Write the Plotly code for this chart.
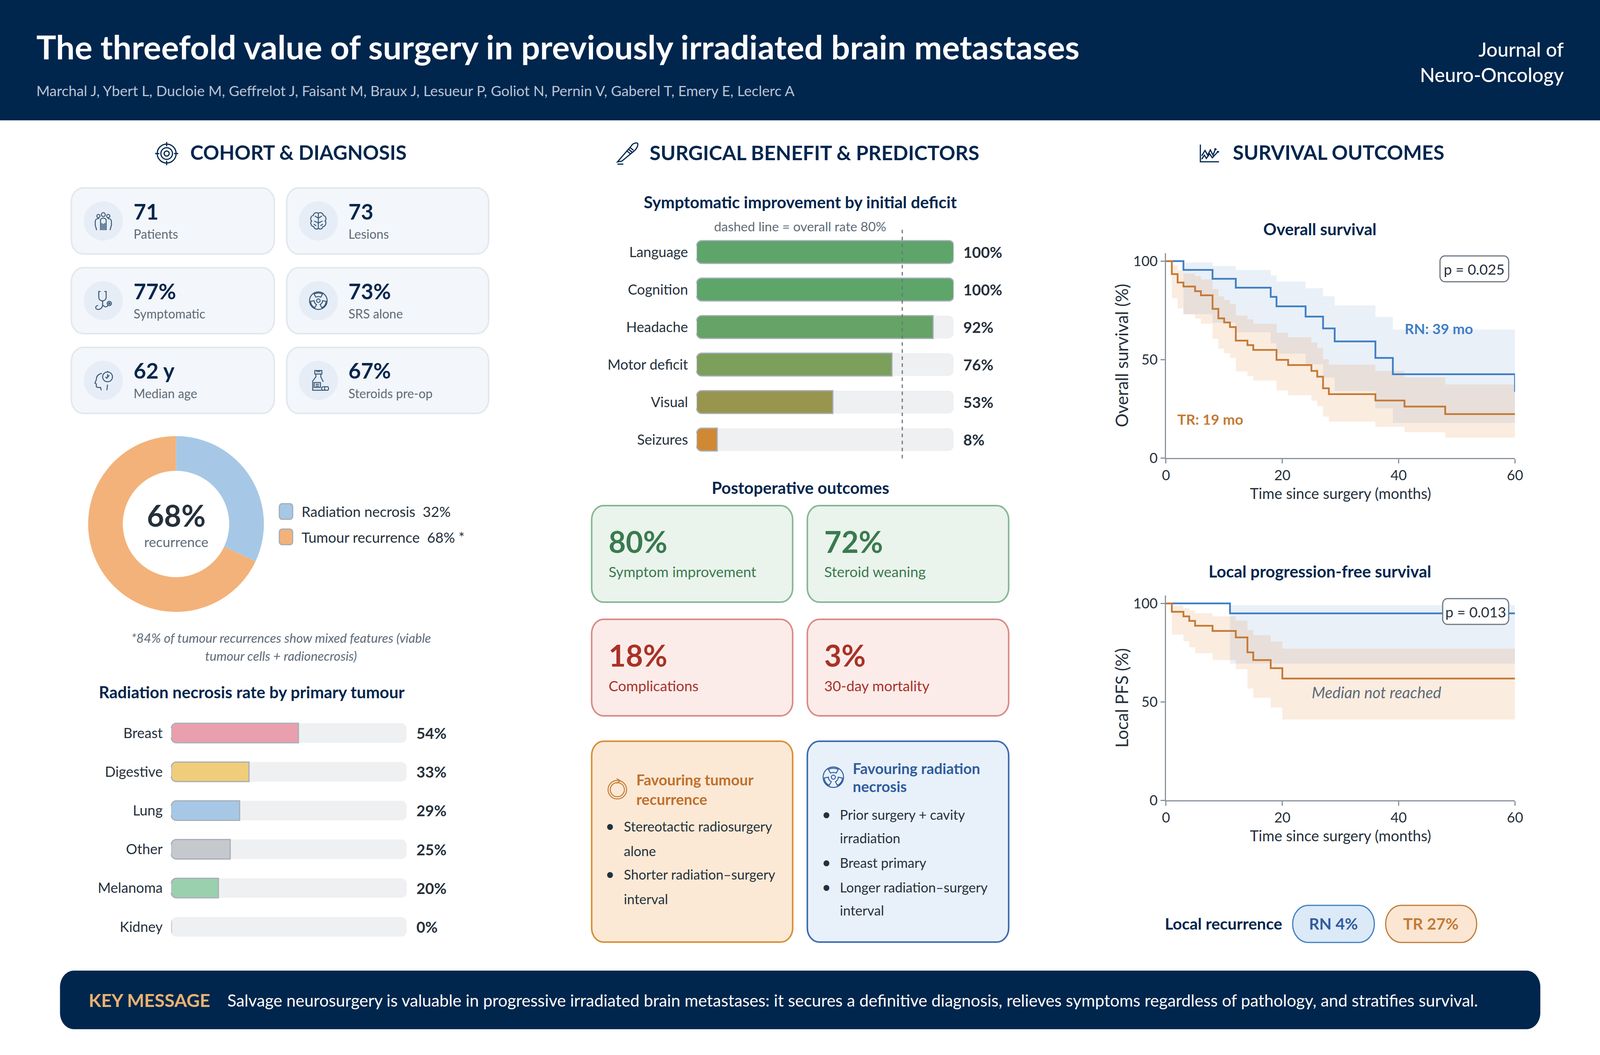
import re
import plotly.graph_objects as go

# ---------- data ----------
TITLE = "The threefold value of surgery in previously irradiated brain metastases"
AUTHORS = "Marchal J, Ybert L, Ducloie M, Geffrelot J, Faisant M, Braux J, Lesueur P, Goliot N, Pernin V, Gaberel T, Emery E, Leclerc A"

DONUT_LABELS = ["Radiation necrosis", "Tumour recurrence"]
DONUT_VALUES = [32, 68]

PRIMARY_TUMOURS = ["Breast", "Digestive", "Lung", "Other", "Melanoma", "Kidney"]
PRIMARY_RATES = [54, 33, 29, 25, 20, 0]
PRIMARY_COLORS = ["#e99fae", "#f0cd7a", "#a6c8e6", "#c5c9ce", "#9bd0ae", "#c5c9ce"]

DEFICITS = ["Language", "Cognition", "Headache", "Motor deficit", "Visual", "Seizures"]
DEFICIT_RATES = [100, 100, 92, 76, 53, 8]
DEFICIT_COLORS = ["#5ea56a", "#5ea56a", "#66a366", "#7c9f5c", "#98954f", "#d08834"]
OVERALL_RATE = 80

OS_RN_X = [0, 3, 8, 12, 18, 19, 24, 27, 29, 36, 39, 60]
OS_RN_Y = [100, 95.5, 91, 86.5, 81.8, 77, 71.8, 65.8, 59.2, 50.8, 42.5, 33.6]
OS_RN_BX = [3, 8, 12, 18, 19, 24, 27, 29, 36, 39, 60]
OS_RN_UP = [99.3, 97.5, 95.4, 92.7, 89.6, 86.2, 82.1, 77.5, 71.6, 65.2, 65.2]
OS_RN_LO = [73, 68.7, 63.8, 58.3, 53, 47.6, 40.9, 34, 25.2, 17.8, 17.8]

OS_TR_X = [0, 1, 2, 3, 5, 6, 8, 9, 10, 11, 12, 14, 15, 19, 21, 25, 26, 27, 28, 36, 41, 48, 60]
OS_TR_Y = [100, 93.4, 89.1, 87.1, 84.7, 82.6, 75.7, 70.9, 68.8, 66.5, 59.6, 57.3, 54.9, 49.8, 47.2, 44.2, 41.3, 35.4, 32.4, 29.2, 26.1, 22.3, 22.3]
OS_TR_BX = OS_TR_X[1:]
OS_TR_UP = [97.8, 95.3, 93.7, 92.4, 90.7, 85.8, 82.1, 80.2, 78.2, 72.3, 70.4, 68.2, 63.6, 61.3, 58.6, 55.8, 50.2, 47.4, 44.2, 40.9, 37.3, 37.3]
OS_TR_LO = [81.2, 75.9, 73, 70.7, 68.2, 60.5, 55.5, 53.2, 50.8, 43.9, 41.7, 39.3, 34.3, 31.8, 29.1, 26.3, 21, 18.4, 15.8, 13.1, 10.3, 10.3]

PFS_RN_X = [0, 11, 60]
PFS_RN_Y = [100, 94.9, 94.9]
PFS_RN_BX = [11, 60]
PFS_RN_UP = [99.1, 99.1]
PFS_RN_LO = [69.4, 69.4]

PFS_TR_X = [0, 1, 3, 4, 5, 8, 12, 14, 15, 18, 20, 60]
PFS_TR_Y = [100, 95.7, 93.4, 91.1, 88.6, 86, 82.7, 75.1, 71.2, 67.1, 61.8, 61.8]
PFS_TR_BX = PFS_TR_X[1:]
PFS_TR_UP = [99, 97.6, 96.4, 95, 93.4, 91.3, 86.4, 83.8, 80.7, 77, 77]
PFS_TR_LO = [84.1, 80.8, 77.7, 74.7, 71.2, 66.6, 56.7, 52, 47.1, 41, 41]

STAT_VALUES = ["71", "73", "77%", "73%", "62 y", "67%"]
STAT_LABELS = ["Patients", "Lesions", "Symptomatic", "SRS alone", "Median age", "Steroids pre-op"]

# ---------- style ----------
# Positions below are in the reference's 4800x2700 space and become page
# fractions, so the figure fills whatever window it is opened in.
W, H = 4800, 2700
ISO_X = 4800 / 4096  # keeps round icons round in a 4096-wide window
FONT = "Lato"
NAVY = "#00264d"
INK = "#25303b"
GREY = "#5f6b78"
BLUE = "#3f7fc4"
ORANGE = "#c47a35"
AXIS = "#8a929c"
BAR_EDGE = "#a8aeb8"

shapes, annots = [], []


def px(x):
    return x / W


def py(y):
    return 1 - y / H


def text(x, y, s, size, color=INK, weight=400, anchor="left", italic=False, angle=0):
    f = dict(family=FONT, size=size, color=color, weight=weight)
    if italic:
        f["style"] = "italic"
    annots.append(dict(xref="paper", yref="paper", x=px(x), y=py(y), text=s, showarrow=False, textangle=angle,
                       xanchor=anchor, yanchor="middle", font=f, borderpad=0))


def tf(path, cx=0, cy=0, sx=1, sy=1):
    tokens = re.findall(r"[MLCQZ]|-?\d+\.?\d*", path)
    out, is_x = [], True
    for t in tokens:
        if t in "MLCQZ":
            out.append(t)
            is_x = True
        elif is_x:
            out.append(f"{px(cx + float(t) * sx):.6f}")
            is_x = False
        else:
            out.append(f"{py(cy + float(t) * sy):.6f}")
            is_x = True
    res, i = "", 0
    while i < len(out):
        if out[i] in "MLCQZ":
            res += out[i] + " "
            i += 1
        else:
            res += out[i] + "," + out[i + 1] + " "
            i += 2
    return res


def rrect(x0, y0, x1, y1, r, fill, line=None, lw=0, layer="below"):
    k = r * 0.4477
    p = (f"M{x0 + r} {y0} L{x1 - r} {y0} C{x1 - k} {y0} {x1} {y0 + k} {x1} {y0 + r} L{x1} {y1 - r} "
         f"C{x1} {y1 - k} {x1 - k} {y1} {x1 - r} {y1} L{x0 + r} {y1} C{x0 + k} {y1} {x0} {y1 - k} {x0} {y1 - r} "
         f"L{x0} {y0 + r} C{x0} {y0 + k} {x0 + k} {y0} {x0 + r} {y0} Z")
    shapes.append(dict(type="path", xref="paper", yref="paper", path=tf(p), fillcolor=fill,
                       line=dict(color=line or "rgba(0,0,0,0)", width=lw), layer=layer))


def circ(x, y, r):
    k = r * 0.5523
    return (f"M{x + r} {y} C{x + r} {y + k} {x + k} {y + r} {x} {y + r} C{x - k} {y + r} {x - r} {y + k} {x - r} {y} "
            f"C{x - r} {y - k} {x - k} {y - r} {x} {y - r} C{x + k} {y - r} {x + r} {y - k} {x + r} {y} Z ")


def icon(path, cx, cy, s=0.93, color="#3a5878", lw=2.5):
    shapes.append(dict(type="path", xref="paper", yref="paper", path=tf(path, cx, cy, s * ISO_X, s),
                       fillcolor="rgba(0,0,0,0)", line=dict(color=color, width=lw), layer="above"))


def disc(cx, cy, r, fill):
    rx = r * ISO_X
    shapes.append(dict(type="circle", xref="paper", yref="paper", x0=px(cx - rx), x1=px(cx + rx),
                       y0=py(cy + r), y1=py(cy - r), fillcolor=fill, line=dict(width=0), layer="below"))


def round_left_ends(x0, top, step, h, vals, r=13):
    """Plotly rounds only the far end of a bar: mask the near end's corners and redraw their edge."""
    rx, ry = r * ISO_X, r
    kx, ky = rx * 0.4477, ry * 0.4477
    for i, v in enumerate(vals):
        yc = top + step * (i + 0.5)
        for sgn in (-1, 1):
            ye = yc + sgn * h / 2
            mask = (f"M{x0 - 4} {ye + sgn * 4} L{x0 + rx} {ye + sgn * 4} L{x0 + rx} {ye} "
                    f"C{x0 + kx} {ye} {x0} {ye - sgn * ky} {x0} {ye - sgn * ry} L{x0 - 4} {ye - sgn * ry} Z")
            shapes.append(dict(type="path", xref="paper", yref="paper", path=tf(mask), fillcolor="#ffffff",
                               line=dict(width=0), layer="above"))
            if v > 0:
                arc = f"M{x0 + rx} {ye} C{x0 + kx} {ye} {x0} {ye - sgn * ky} {x0} {ye - sgn * ry}"
                shapes.append(dict(type="path", xref="paper", yref="paper", path=tf(arc),
                                   fillcolor="rgba(0,0,0,0)", line=dict(color=BAR_EDGE, width=3), layer="above"))


ICON_TARGET = circ(0, 0, 26) + circ(0, 0, 16) + circ(0, 0, 7) + "M0 -32 L0 -20 M0 20 L0 32 M-32 0 L-20 0 M20 0 L32 0"
ICON_SCALPEL = ("M-28 24 L10 -20 C14 -27 24 -30 27 -27 C30 -24 26 -14 20 -8 L-16 22 L-28 24 Z "
                "M-2 -6 L8 2 M2 -11 L12 -3 M6 -16 L16 -8 M-28 30 L-12 30")
ICON_CHART = ("M-28 -26 L-28 26 L28 26 M-24 8 L-14 -8 L-6 6 L2 -10 L10 6 L18 -14 M18 -14 L14 -12 M18 -14 L20 -10 "
              "M-24 18 L-16 6 L-10 16 L0 2 L8 14 L26 -6 M26 -6 L22 -4 M26 -6 L27 -2")
ICON_PEOPLE = (circ(-14, -14, 4.5) + circ(0, -18, 5.5) + circ(14, -14, 4.5) +
               "M-8 26 L-8 -2 C-8 -10 8 -10 8 -2 L8 26 M-4 26 L-4 6 M4 26 L4 6 M0 26 L0 8 "
               "M-12 -7 C-20 -7 -23 -3 -23 1 L-23 12 L-19 26 M12 -7 C20 -7 23 -3 23 1 L23 12 L19 26")
ICON_BRAIN = ("M0 -22 C-6 -26 -14 -22 -14 -16 C-22 -14 -24 -4 -19 0 C-25 6 -19 16 -13 16 C-11 24 -3 25 0 20 "
              "C3 25 11 24 13 16 C19 16 25 6 19 0 C24 -4 22 -14 14 -16 C14 -22 6 -26 0 -22 Z "
              "M0 -22 L0 20 M0 -8 L-10 -14 M0 -8 L10 -14 M0 6 L-12 0 M0 6 L12 0 M-6 14 L-13 9 M6 14 L13 9")
ICON_STETH = ("M-8 -26 L-13 -26 L-13 -10 C-13 4 8 4 8 -10 L8 -26 L3 -26 M-2 -1 L-2 10 C-2 22 -10 25 -15 25 "
              "C-24 25 -24 14 -15 14 M-2 12 C4 20 12 18 12 14 " + circ(17, 8, 6) + circ(17, 8, 2))
ICON_RAD = (circ(0, 0, 25) + circ(0, 0, 5) + "M-7 -10 L-12 -19 C-5 -23 5 -23 12 -19 L7 -10 C3 -12 -3 -12 -7 -10 Z "
            "M-12 0 L-22 2 C-22 10 -17 17 -10 20 L-5 11 C-9 9 -12 5 -12 0 Z "
            "M12 0 L22 2 C22 10 17 17 10 20 L5 11 C9 9 12 5 12 0 Z")
ICON_HEAD = (circ(12, -10, 14) + "M12 -24 L12 -27 M12 -10 L12 -18 M6 -10 L10 -6 L17 -15 "
             "M-4 -20 C-14 -18 -20 -12 -20 -2 L-24 8 L-20 10 L-20 18 C-16 22 -12 20 -8 20 L-6 28 M12 12 L10 28")
ICON_BOTTLE = ("M-10 -28 L10 -28 L10 -18 L-10 -18 Z M-4 -28 L-4 -23 M0 -28 L0 -23 M4 -28 L4 -23 "
               "M-7 -18 L-7 -10 L-16 2 L-16 28 L14 28 M7 -18 L7 -10 L14 4 "
               "M-12 6 L6 6 L6 20 L-12 20 Z M-8 11 L2 11 M-8 16 L2 16 "
               "M14 18 L26 18 C30 18 30 28 26 28 L14 28 C8 28 8 18 14 18 Z M18 18 L18 28")
ICON_REPEAT = (circ(0, 0, 25) + circ(0, 0, 19) + "M-2 -30 L8 -24 L-2 -17")

# ---------- header ----------
shapes.append(dict(type="rect", xref="paper", yref="paper", x0=0, x1=1, y0=py(308), y1=1,
                   fillcolor=NAVY, line=dict(width=0), layer="below"))
text(108, 119, TITLE, 85, "#ffffff", 700)
text(108, 231, AUTHORS, 37, "#b7c4d6")
text(4692, 126, "Journal of", 50, "#ffffff", 500, "right")
text(4692, 191, "Neuro-Oncology", 50, "#ffffff", 500, "right")

# ---------- section heads ----------
text(569, 390, "COHORT &amp; DIAGNOSIS", 51, NAVY, 700)
text(1948, 390, "SURGICAL BENEFIT &amp; PREDICTORS", 51.5, NAVY, 700)
text(3697, 390, "SURVIVAL OUTCOMES", 51, NAVY, 700)
icon(ICON_TARGET, 500, 393, 0.93, NAVY, 3)
icon(ICON_SCALPEL, 1883, 392, 0.93, NAVY, 3)
icon(ICON_CHART, 3629, 392, 0.85, NAVY, 3)

# ---------- stat cards ----------
STAT_ICONS = [ICON_PEOPLE, ICON_BRAIN, ICON_STETH, ICON_RAD, ICON_HEAD, ICON_BOTTLE]
rows = [(481, 650), (685, 854), (889, 1058)]
cols = [(214, 823, 310, 400), (860, 1466, 955, 1044)]
for i in range(6):
    r, c = rows[i // 2], cols[i % 2]
    rrect(c[0], r[0], c[1], r[1], 36, "#f3f6fa", "#e3e8ef", 4)
    cy = (r[0] + r[1]) / 2
    disc(c[2], cy, 50, "#e6edf6")
    icon(STAT_ICONS[i], c[2], cy, 0.9)
    text(c[3], cy - 25, STAT_VALUES[i], 55, NAVY, 700)
    text(c[3], cy + 33, STAT_LABELS[i], 32, GREY)

# ---------- donut labels ----------
text(528, 1318, f"{DONUT_VALUES[1]}%", 76, INK, 700, "center")
text(528, 1386, "recurrence", 35, GREY, 400, "center")
rrect(838, 1289, 878, 1329, 8, "#a6c8e6", "#a5adb8", 3, "above")
rrect(838, 1354, 878, 1394, 8, "#f3b27a", "#a5adb8", 3, "above")
text(904, 1309, f"{DONUT_LABELS[0]}  {DONUT_VALUES[0]}%", 36.5, INK)
text(904, 1375, f"{DONUT_LABELS[1]}  {DONUT_VALUES[1]}% *", 36.5, INK)
text(843, 1632, "*84% of tumour recurrences show mixed features (viable", 33, GREY, 400, "center", True)
text(843, 1678, "tumour cells + radionecrosis)", 33, GREY, 400, "center", True)
text(755, 1771, "Radiation necrosis rate by primary tumour", 42, NAVY, 700, "center")

# ---------- middle column texts ----------
text(2401, 517, "Symptomatic improvement by initial deficit", 42, NAVY, 700, "center")
text(2400, 579, f"dashed line = overall rate {OVERALL_RATE}%", 33.5, GREY, 400, "center")
text(2401, 1248, "Postoperative outcomes", 42, NAVY, 700, "center")

OUT = [("80%", "Symptom improvement", 1775, 2378, 1294, 1541, "#eaf3ec", "#85b894", "#3a7a4f"),
       ("72%", "Steroid weaning", 2422, 3026, 1294, 1541, "#eaf3ec", "#85b894", "#3a7a4f"),
       ("18%", "Complications", 1775, 2378, 1585, 1832, "#fbecea", "#d98b85", "#a93226"),
       ("3%", "30-day mortality", 2422, 3026, 1585, 1832, "#fbecea", "#d98b85", "#a93226")]
for v, l, x0, x1, y0, y1, f, s, c in OUT:
    rrect(x0, y0, x1, y1, 36, f, s, 4)
    text(x0 + 50, y0 + 91, v, 76, c, 700)
    text(x0 + 50, y0 + 169, l, 37, c)

rrect(1775, 1897, 2378, 2411, 36, "#fbe9d6", "#d98f38", 4)
rrect(2422, 1897, 3026, 2411, 36, "#e8f0fa", "#3b6cb0", 4)
icon(ICON_REPEAT, 1852, 2021, 0.95, "#c47a35", 2.5)
icon(ICON_RAD, 2500, 1989, 1.05, "#2f5d9e", 2.5)
text(1908, 1995, "Favouring tumour", 38, "#c0702c", 700)
text(1908, 2045, "recurrence", 38, "#c0702c", 700)
text(2557, 1966, "Favouring radiation", 38, "#2f5d9e", 700)
text(2557, 2012, "necrosis", 38, "#2f5d9e", 700)
for y, s, b in [(2114, "Stereotactic radiosurgery", 1), (2177, "alone", 0),
                (2237, "Shorter radiation\u2013surgery", 1), (2300, "interval", 0)]:
    if b:
        text(1830, y, "\u2022", 40, INK, 400, "center")
    text(1870, y, s, 34.5, INK)
for y, s, b in [(2084, "Prior surgery + cavity", 1), (2144, "irradiation", 0), (2207, "Breast primary", 1),
                (2270, "Longer radiation\u2013surgery", 1), (2329, "interval", 0)]:
    if b:
        text(2479, y, "\u2022", 40, INK, 400, "center")
    text(2518, y, s, 34.5, INK)

# ---------- right column texts ----------
text(3960, 586, "Overall survival", 42, NAVY, 700, "center")
text(3960, 1462, "Local progression-free survival", 42, NAVY, 700, "center")
text(3364, 910, "Overall survival (%)", 44, INK, 400, "center", angle=-90)
text(3364, 1786, "Local PFS (%)", 44, INK, 400, "center", angle=-90)
text(4317, 840, "RN: 39 mo", 37, BLUE, 700, "center")
text(3631, 1072, "TR: 19 mo", 37, ORANGE, 700, "center")
text(4130, 1772, "Median not reached", 40, GREY, 400, "center", True)
rrect(4320, 655, 4526, 721, 14, "#ffffff", "#6d7885", 3, "above")
text(4423, 688, "p = 0.025", 37, INK, 400, "center")
rrect(4328, 1532, 4526, 1598, 14, "#ffffff", "#6d7885", 3, "above")
text(4427, 1565, "p = 0.013", 37, INK, 400, "center")

text(3493, 2363, "Local recurrence", 41, NAVY, 700)
rrect(3878, 2317, 4123, 2412, 47, "#dce9f7", BLUE, 3)
rrect(4157, 2317, 4430, 2412, 47, "#fae6d3", ORANGE, 3)
text(4000, 2363, "RN 4%", 41, "#2f5d9e", 700, "center")
text(4293, 2363, "TR 27%", 41, ORANGE, 700, "center")

# ---------- key message ----------
rrect(180, 2484, 4621, 2634, 42, NAVY)
text(265, 2559, "KEY MESSAGE", 46.5, "#e9b36f", 700)
text(681, 2559, "Salvage neurosurgery is valuable in progressive irradiated brain metastases: it secures a definitive "
     "diagnosis, relieves symptoms regardless of pathology, and stratifies survival.", 42.4, "#ffffff")

# ---------- traces ----------
fig = go.Figure()
fig.add_trace(go.Pie(values=DONUT_VALUES, labels=DONUT_LABELS, hole=0.605, sort=False, direction="clockwise",
                     rotation=0, textinfo="none", hoverinfo="skip", showlegend=False,
                     marker=dict(colors=["#a6c8e6", "#f3b27a"], line=dict(width=0)),
                     domain=dict(x=[px(264), px(792)], y=[py(1566), py(1116)])))


def hbar(cats, vals, colors, xa, ya, width):
    fig.add_trace(go.Bar(y=cats, x=[100] * len(cats), orientation="h", width=width, xaxis=xa, yaxis=ya,
                         marker=dict(color="#eef0f2", cornerradius=14, line=dict(width=0)),
                         hoverinfo="skip", showlegend=False))
    fig.add_trace(go.Bar(y=cats, x=vals, orientation="h", width=width, xaxis=xa, yaxis=ya, cliponaxis=False,
                         marker=dict(color=colors, cornerradius=12, line=dict(color=BAR_EDGE, width=3)),
                         hoverinfo="skip", showlegend=False))
    for c, v in zip(cats, vals):
        annots.append(dict(xref=xa, yref=ya, x=100, y=c, text=f"{v}%", showarrow=False, xanchor="left",
                           xshift=23, font=dict(family=FONT, size=39, color=INK, weight=700)))


hbar(PRIMARY_TUMOURS, PRIMARY_RATES, PRIMARY_COLORS, "x", "y", 0.504)
hbar(DEFICITS, DEFICIT_RATES, DEFICIT_COLORS, "x2", "y2", 0.61)
round_left_ends(514, 1826.4, 99.2, 50, PRIMARY_RATES)
round_left_ends(2090, 597, 96, 58.6, DEFICIT_RATES)


def km(xa, ya, rn, tr):
    for (bx, lo, up), col in ((rn[2:], "rgba(63,127,196,0.115)"), (tr[2:], "rgba(232,138,60,0.16)")):
        fig.add_trace(go.Scatter(x=bx, y=lo, mode="lines", line=dict(width=0, shape="hv"), xaxis=xa, yaxis=ya,
                                 hoverinfo="skip", showlegend=False))
        fig.add_trace(go.Scatter(x=bx, y=up, mode="lines", line=dict(width=0, shape="hv"), fill="tonexty",
                                 fillcolor=col, xaxis=xa, yaxis=ya, hoverinfo="skip", showlegend=False))
    for d, col in ((rn, BLUE), (tr, ORANGE)):
        fig.add_trace(go.Scatter(x=d[0], y=d[1], mode="lines", line=dict(color=col, width=4.5, shape="hv"),
                                 xaxis=xa, yaxis=ya, hoverinfo="skip", showlegend=False))


km("x3", "y3", (OS_RN_X, OS_RN_Y, OS_RN_BX, OS_RN_LO, OS_RN_UP), (OS_TR_X, OS_TR_Y, OS_TR_BX, OS_TR_LO, OS_TR_UP))
km("x4", "y4", (PFS_RN_X, PFS_RN_Y, PFS_RN_BX, PFS_RN_LO, PFS_RN_UP), (PFS_TR_X, PFS_TR_Y, PFS_TR_BX, PFS_TR_LO, PFS_TR_UP))

shapes.append(dict(type="line", xref="x2", yref="paper", x0=OVERALL_RATE, x1=OVERALL_RATE, y0=py(588), y1=py(1182),
                   line=dict(color="#6b7580", width=3, dash="dash"), layer="above"))


def bar_axes(x0, x1, y0, y1, cats, lab):
    xa = dict(domain=[px(x0), px(x1)], range=[0, 100], visible=False, fixedrange=True)
    ya = dict(domain=[py(y1), py(y0)], type="category", categoryorder="array", categoryarray=cats,
              range=[len(cats) - 0.5, -0.5], showgrid=False, zeroline=False, showline=False, ticks="outside",
              ticklen=lab, tickcolor="rgba(0,0,0,0)", tickwidth=1,
              tickfont=dict(family=FONT, size=36, color=INK), automargin=False, fixedrange=True)
    return xa, ya


def km_axes(y0, y1):
    tick_font = dict(family=FONT, size=36, color=INK)
    base = dict(showgrid=False, zeroline=False, showline=True, linecolor=AXIS, linewidth=3, ticks="outside",
                ticklen=11, tickwidth=3, tickcolor=AXIS, tickfont=tick_font, automargin=False, fixedrange=True)
    xa = dict(base, domain=[px(3498), px(4545)], range=[0, 60], tickvals=[0, 20, 40, 60],
              title=dict(text="Time since surgery (months)", font=dict(family=FONT, size=38, color=INK)))
    ya = dict(base, domain=[py(y1), py(y0)], range=[0, 104], tickvals=[0, 50, 100])
    return xa, ya


xa1, ya1 = bar_axes(514, 1220, 1826.4, 2421.6, PRIMARY_TUMOURS, 14)
xa2, ya2 = bar_axes(2090, 2861, 597, 1173, DEFICITS, 14)
xa3, ya3 = km_axes(648, 1172)
xa4, ya4 = km_axes(1524, 2048)

fig.update_layout(
    autosize=True, margin=dict(l=0, r=0, t=0, b=0, pad=0),
    paper_bgcolor="#ffffff", plot_bgcolor="rgba(0,0,0,0)", barmode="overlay", showlegend=False,
    font=dict(family=FONT, color=INK),
    xaxis=dict(xa1, anchor="y"), yaxis=dict(ya1, anchor="x"),
    xaxis2=dict(xa2, anchor="y2"), yaxis2=dict(ya2, anchor="x2"),
    xaxis3=dict(xa3, anchor="y3"), yaxis3=dict(ya3, anchor="x3"),
    xaxis4=dict(xa4, anchor="y4"), yaxis4=dict(ya4, anchor="x4"),
    shapes=shapes, annotations=annots,
)

fig.write_html("out.html", default_width="100vw", default_height="100vh", config={"displayModeBar": False},
               post_script="document.body.style.margin='0';document.documentElement.style.overflow='hidden';")
